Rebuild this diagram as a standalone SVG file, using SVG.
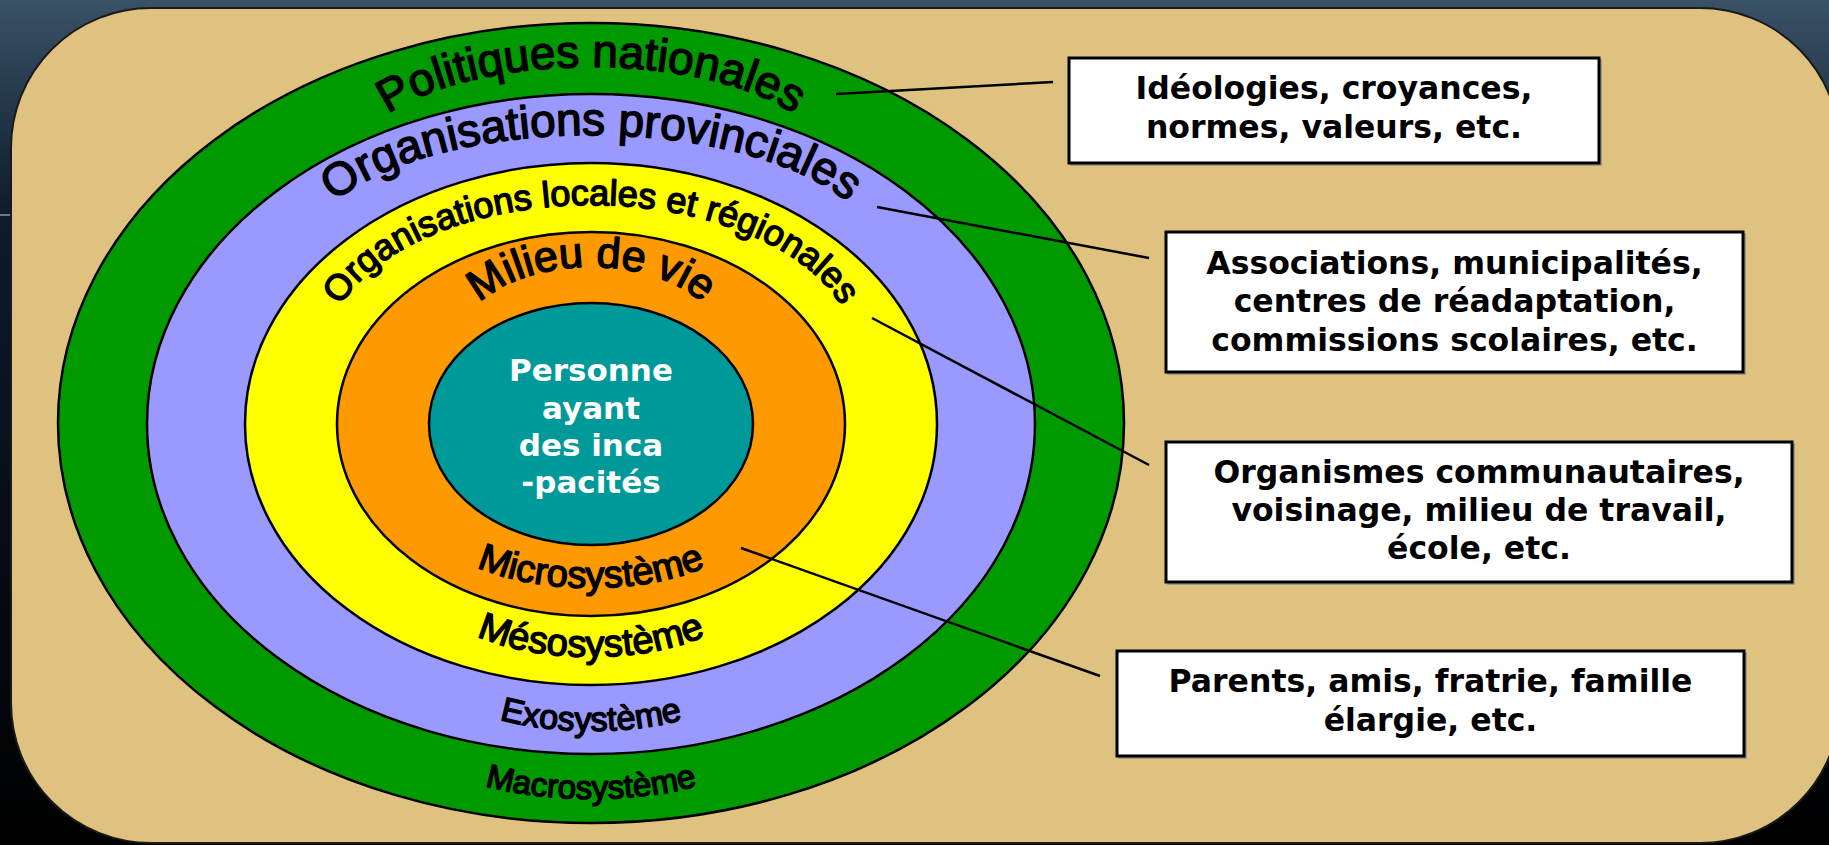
<svg xmlns="http://www.w3.org/2000/svg" width="1829" height="845" viewBox="0 0 1829 845">
<defs>
<linearGradient id="bg" x1="0" y1="0" x2="0" y2="1">
<stop offset="0" stop-color="#3a5266"/>
<stop offset="0.25" stop-color="#0e1c2e"/>
<stop offset="0.7" stop-color="#050a12"/>
<stop offset="1" stop-color="#000"/>
</linearGradient>
<path id="p1" d="M 356 162 A 235 95 0 0 1 826 162"/>
<path id="p2" d="M 301 260 A 290 125 0 0 1 881 260"/>
<path id="p3" d="M 326 355 A 265 150 0 0 1 856 355"/>
<path id="p4" d="M 461 342 A 130 75 0 0 1 721 342"/>
<path id="p5" d="M 431 518 A 160 70 0 0 0 751 518"/>
<path id="p6" d="M 431 587 A 160 70 0 0 0 751 587"/>
<path id="p7" d="M 441 676 A 150 55 0 0 0 741 676"/>
<path id="p8" d="M 421 739 A 170 60 0 0 0 761 739"/>
</defs>
<style>
.ring{stroke:#000;stroke-width:2.5}
.arc{font-family:"Liberation Sans",Arial,sans-serif;fill:#000;stroke:#000;stroke-width:1.5;stroke-linejoin:round;text-anchor:middle}
.box rect{fill:#fff;stroke:#000;stroke-width:3}
.box .sh{fill:none;stroke:#8a8a8a;stroke-width:1.5}
.bt{font-family:"DejaVu Sans",Verdana,sans-serif;font-weight:bold;font-size:31.5px;text-anchor:middle;fill:#000}
.ct{font-family:"DejaVu Sans",Verdana,sans-serif;font-weight:bold;font-size:31px;text-anchor:middle;fill:#fff}
#connectors line{stroke:#000;stroke-width:2.5}
</style>
<g id="background">
<rect x="0" y="0" width="1829" height="845" fill="url(#bg)"/>
<line x1="0" y1="215" x2="20" y2="215" stroke="#8a98a8" stroke-width="1.5"/>
<rect x="11" y="8" width="1829" height="835" rx="140" ry="140" fill="#dfc27f" stroke="#1a1a1a" stroke-width="2"/>
</g>
<g id="macrosysteme">
<ellipse class="ring" cx="591" cy="423" rx="533" ry="400" fill="#009900"/>
<text class="arc" font-size="46"><textPath href="#p1" startOffset="50%">Politiques nationales</textPath></text>
<text class="arc" font-size="33"><textPath href="#p8" startOffset="50%">Macrosystème</textPath></text>
</g>
<g id="exosysteme">
<ellipse class="ring" cx="591" cy="424" rx="444" ry="330" fill="#9999ff"/>
<text class="arc" font-size="46"><textPath href="#p2" startOffset="50%">Organisations provinciales</textPath></text>
<text class="arc" font-size="34"><textPath href="#p7" startOffset="50%">Exosystème</textPath></text>
</g>
<g id="mesosysteme">
<ellipse class="ring" cx="591" cy="424" rx="346" ry="261" fill="#ffff00"/>
<text class="arc" font-size="36"><textPath href="#p3" startOffset="50%">Organisations locales et régionales</textPath></text>
<text class="arc" font-size="38"><textPath href="#p6" startOffset="50%">Mésosystème</textPath></text>
</g>
<g id="microsysteme">
<ellipse class="ring" cx="591" cy="424" rx="254" ry="192" fill="#ff9900"/>
<text class="arc" font-size="43"><textPath href="#p4" startOffset="50%">Milieu de vie</textPath></text>
<text class="arc" font-size="38"><textPath href="#p5" startOffset="50%">Microsystème</textPath></text>
</g>
<g id="personne">
<ellipse class="ring" cx="591" cy="424" rx="162" ry="121" fill="#009999"/>
<text class="ct" x="591" y="381">Personne</text>
<text class="ct" x="591" y="419">ayant</text>
<text class="ct" x="591" y="456">des inca</text>
<text class="ct" x="591" y="493">-pacités</text>
</g>
<g id="connectors">
<line x1="836" y1="94" x2="1053" y2="82"/>
<line x1="877" y1="207" x2="1149" y2="258"/>
<line x1="872" y1="318" x2="1149" y2="465"/>
<line x1="741" y1="548" x2="1100" y2="676"/>
</g>
<g id="box-ideologies" class="box">
<rect class="sh" x="1071" y="60" width="530" height="105"/>
<rect x="1069" y="58" width="530" height="105"/>
<text class="bt" x="1334" y="99">Idéologies, croyances,</text>
<text class="bt" x="1334" y="138">normes, valeurs, etc.</text>
</g>
<g id="box-associations" class="box">
<rect class="sh" x="1168" y="234" width="577" height="140"/>
<rect x="1166" y="232" width="577" height="140"/>
<text class="bt" x="1454.5" y="274">Associations, municipalités,</text>
<text class="bt" x="1454.5" y="312">centres de réadaptation,</text>
<text class="bt" x="1454.5" y="351">commissions scolaires, etc.</text>
</g>
<g id="box-organismes" class="box">
<rect class="sh" x="1168" y="444" width="626" height="140"/>
<rect x="1166" y="442" width="626" height="140"/>
<text class="bt" x="1479" y="483">Organismes communautaires,</text>
<text class="bt" x="1479" y="521">voisinage, milieu de travail,</text>
<text class="bt" x="1479" y="559">école, etc.</text>
</g>
<g id="box-parents" class="box">
<rect class="sh" x="1119" y="653" width="627" height="105"/>
<rect x="1117" y="651" width="627" height="105"/>
<text class="bt" x="1430.5" y="692">Parents, amis, fratrie, famille</text>
<text class="bt" x="1430.5" y="731">élargie, etc.</text>
</g>
</svg>
